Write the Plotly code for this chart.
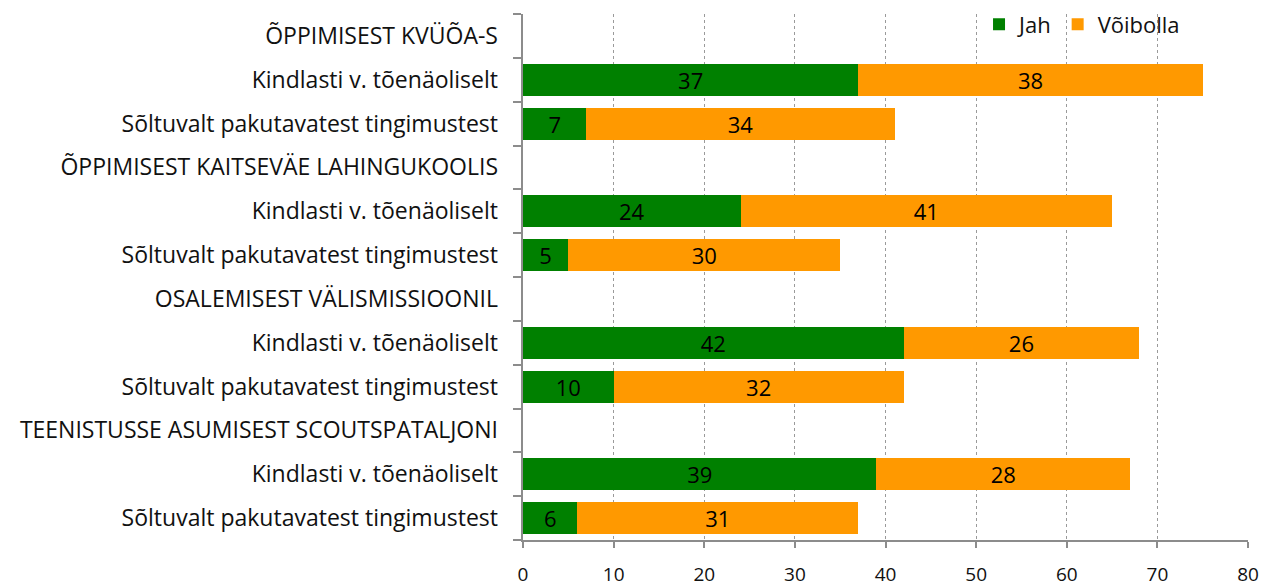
import plotly.graph_objects as go

categories = [
    "ÕPPIMISEST KVÜÕA-S",
    "Kindlasti v. tõenäoliselt",
    "Sõltuvalt pakutavatest tingimustest",
    "ÕPPIMISEST KAITSEVÄE LAHINGUKOOLIS",
    "Kindlasti v. tõenäoliselt",
    "Sõltuvalt pakutavatest tingimustest",
    "OSALEMISEST VÄLISMISSIOONIL",
    "Kindlasti v. tõenäoliselt",
    "Sõltuvalt pakutavatest tingimustest",
    "TEENISTUSSE ASUMISEST SCOUTSPATALJONI",
    "Kindlasti v. tõenäoliselt",
    "Sõltuvalt pakutavatest tingimustest",
]
jah = [None, 37, 7, None, 24, 5, None, 42, 10, None, 39, 6]
voibolla = [None, 38, 34, None, 41, 30, None, 26, 32, None, 28, 31]
x_ticks = [0, 10, 20, 30, 40, 50, 60, 70, 80]

FONT = "Open Sans"
pos = list(range(len(categories)))

fig = go.Figure()
for vals, name, color in [(jah, "Jah", "#008000"), (voibolla, "Võibolla", "#FF9900")]:
    fig.add_trace(go.Bar(
        y=pos, x=vals, orientation="h", name=name,
        marker=dict(color=color, line=dict(width=0)),
        texttemplate="%{x}", textposition="inside", insidetextanchor="middle",
        textangle=0, constraintext="none",
        textfont=dict(color="black", size=22, family=FONT), width=0.73,
    ))
# invisible trace on overlay axis for boundary ticks
fig.add_trace(go.Scatter(x=[None], y=[None], yaxis="y2", showlegend=False, hoverinfo="skip"))

yr = [len(categories) - 0.5, -0.5]
fig.update_layout(
    barmode="stack",
    width=1263, height=585,
    margin=dict(l=523, r=15, t=14, b=45, autoexpand=False),
    plot_bgcolor="white", paper_bgcolor="white",
    font=dict(family=FONT, size=22, color="#111111"),
    showlegend=True,
    legend=dict(orientation="h", x=0.629, y=1.02, yanchor="top", xanchor="left",
                font=dict(size=22, family=FONT), bgcolor="rgba(0,0,0,0)",
                traceorder="normal", itemwidth=30),
    xaxis=dict(range=[0, 80], tickvals=x_ticks, showgrid=True, gridcolor="#9a9a9a",
               griddash="dot", gridwidth=1, showline=True, linecolor="#8c8c8c", linewidth=2,
               ticks="outside", ticklen=6, tickcolor="#8c8c8c", tickwidth=2,
               ticklabelstandoff=10, zeroline=False, automargin=False,
               tickfont=dict(size=19, family=FONT)),
    yaxis=dict(range=yr, tickmode="array", tickvals=pos, ticktext=categories,
               showgrid=False, zeroline=False, showline=False, ticks="", automargin=False,
               ticklabelstandoff=24, tickfont=dict(size=23, family=FONT)),
    yaxis2=dict(overlaying="y", side="left", range=yr, tickmode="array",
                tickvals=[p - 0.5 for p in pos] + [len(categories) - 0.5],
                ticktext=[""] * (len(categories) + 1), showgrid=False, zeroline=False,
                showline=True, linecolor="#8c8c8c", linewidth=2, automargin=False,
                ticks="outside", ticklen=8, tickcolor="#8c8c8c", tickwidth=2),
)
fig.write_html(
    "out.html",
    config={"displayModeBar": False},
    post_script="document.body.style.margin='0';document.body.style.overflow='hidden';",
)
